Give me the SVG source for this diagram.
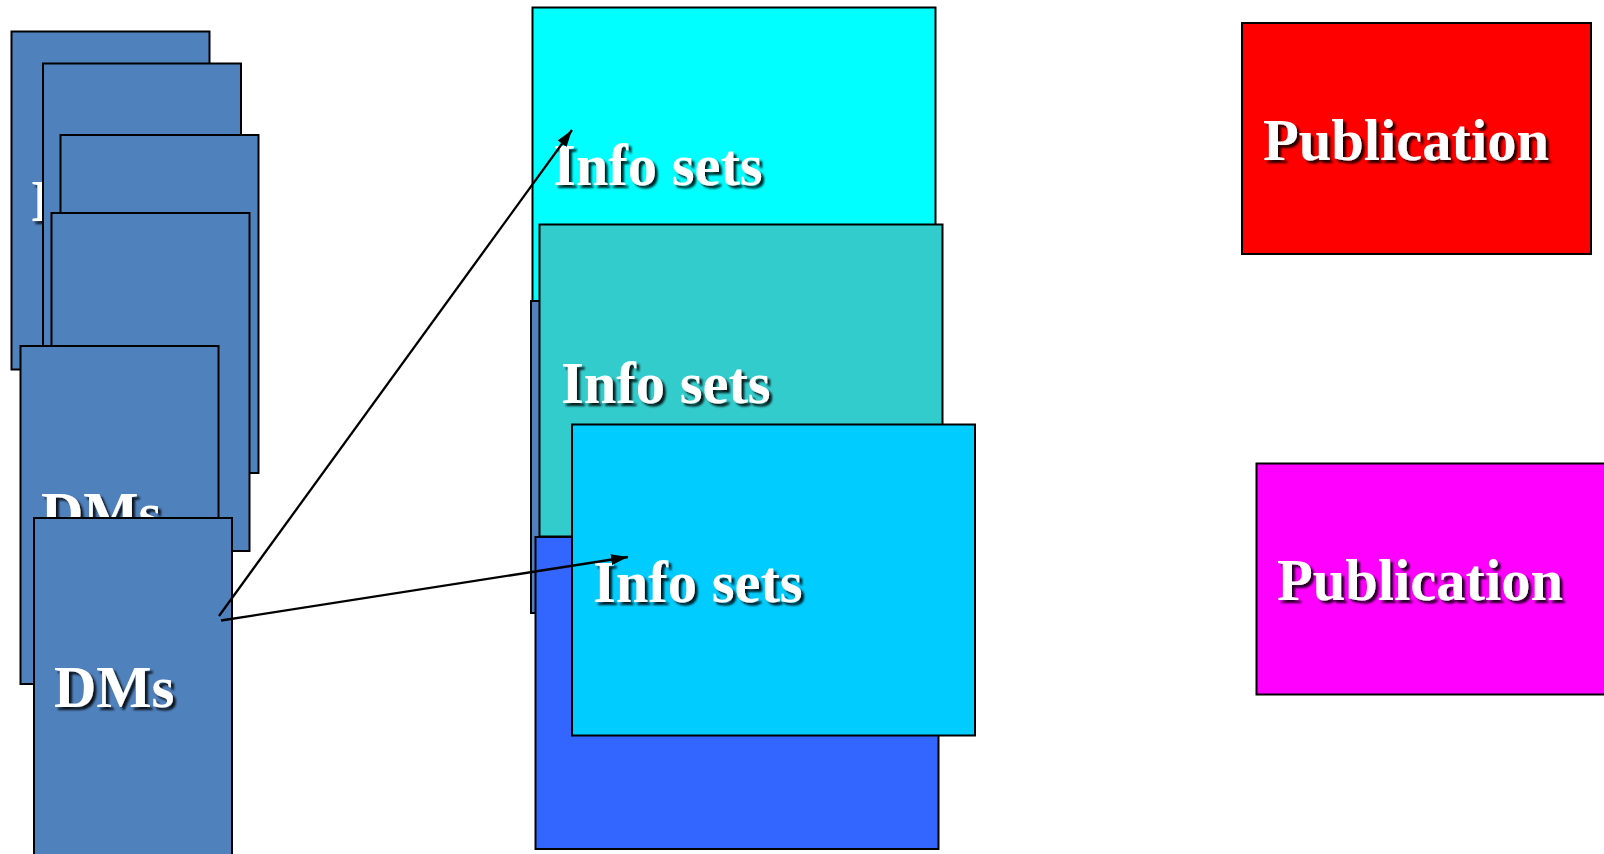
<svg xmlns="http://www.w3.org/2000/svg" width="1604" height="854" viewBox="0 0 1604 854">
<defs>
<style>
.box{stroke:#000;stroke-width:2}
.dm{fill:#4F81BD}
.lbl{font-family:"Liberation Serif","Times New Roman",serif;font-weight:bold;font-size:58.5px;fill:#fff;filter:url(#sh)}
.con{stroke:#000;stroke-width:2.3;fill:none;marker-end:url(#ah)}
</style>
<filter id="sh" x="-10%" y="-30%" width="130%" height="160%">
<feDropShadow dx="3" dy="3" stdDeviation="1" flood-color="#000" flood-opacity="0.85"/>
</filter>
<marker id="ah" viewBox="0 0 10 10" refX="10" refY="5" markerWidth="17" markerHeight="11" markerUnits="userSpaceOnUse" orient="auto" preserveAspectRatio="none">
<path d="M0,0 L10,5 L0,10 z" fill="#000"/>
</marker>
</defs>
<rect width="1604" height="854" fill="#fff"/>
<g id="dm1"><rect class="box dm" x="11.5" y="31.5" width="198" height="338"/><text class="lbl" x="31.5" y="221">DMs</text></g>
<g id="dm2"><rect class="box dm" x="43" y="63.5" width="198" height="338"/></g>
<g id="dm3"><rect class="box dm" x="60.5" y="135" width="198" height="338"/></g>
<g id="dm4"><rect class="box dm" x="51.5" y="213" width="198" height="338"/></g>
<g id="dm5"><rect class="box dm" x="20.5" y="346" width="198" height="338"/><text class="lbl" x="41" y="533">DMs</text></g>
<g id="dm6"><rect class="box dm" x="34" y="518" width="198" height="345"/><text class="lbl" x="54" y="707">DMs</text></g>
<g id="info1"><rect class="box" fill="#00FFFF" x="532.5" y="7.5" width="403" height="312"/><text class="lbl" x="553" y="185">Info sets</text></g>
<g id="dmback"><rect class="box dm" x="531" y="301" width="400" height="312"/></g>
<g id="info2"><rect class="box" fill="#33CCCC" x="539.5" y="224.5" width="403" height="312"/><text class="lbl" x="561" y="403">Info sets</text></g>
<g id="info4"><rect class="box" fill="#3366FF" x="535.5" y="537" width="403" height="312"/></g>
<g id="info3"><rect class="box" fill="#00CCFF" x="572" y="424.5" width="403" height="311"/><text class="lbl" x="593" y="602">Info sets</text></g>
<g id="pub1"><rect class="box" fill="#FF0000" x="1242" y="23" width="349" height="231"/><text class="lbl" x="1263" y="160">Publication</text></g>
<g id="pub2"><rect class="box" fill="#FF00FF" x="1256.5" y="463.5" width="349" height="231"/><text class="lbl" x="1277" y="600">Publication</text></g>
<g id="connectors">
<line class="con" x1="219" y1="616" x2="572" y2="130"/>
<line class="con" x1="221" y1="620.5" x2="628" y2="557"/>
</g>
</svg>
